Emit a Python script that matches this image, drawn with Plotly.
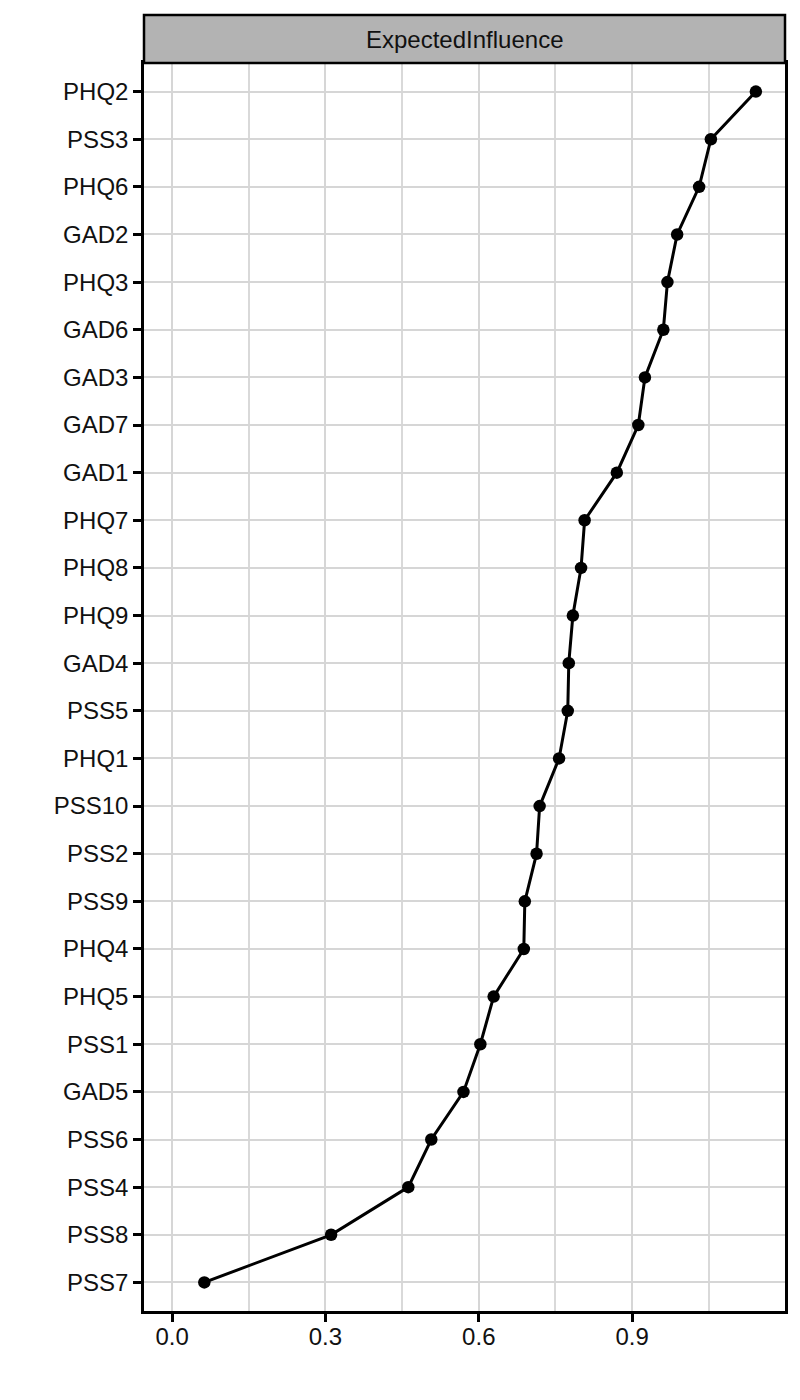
import plotly.graph_objects as go

nodes = ["PHQ2", "PSS3", "PHQ6", "GAD2", "PHQ3", "GAD6", "GAD3", "GAD7", "GAD1",
         "PHQ7", "PHQ8", "PHQ9", "GAD4", "PSS5", "PHQ1", "PSS10", "PSS2", "PSS9",
         "PHQ4", "PHQ5", "PSS1", "GAD5", "PSS6", "PSS4", "PSS8", "PSS7"]
expected_influence = [1.142, 1.054, 1.031, 0.988, 0.969, 0.961, 0.925, 0.912, 0.870,
                      0.807, 0.800, 0.784, 0.776, 0.774, 0.757, 0.719, 0.713, 0.690,
                      0.688, 0.629, 0.603, 0.570, 0.507, 0.462, 0.311, 0.063]
x_ticks = [0.0, 0.3, 0.6, 0.9]
facet_label = "ExpectedInfluence"

# page body has an 8px margin, so the figure is shrunk by that offset
W, H = 792, 1392
ml, mr, mt, mb = 136, 15, 55, 89
plot_h = H - mt - mb
strip_h = 48

fig = go.Figure()
fig.add_trace(go.Scatter(
    x=expected_influence, y=nodes, mode="lines+markers",
    line=dict(color="black", width=3),
    marker=dict(color="black", size=12.5),
    showlegend=False, cliponaxis=False,
))

font = dict(family="Liberation Sans, Arial, Helvetica, sans-serif", size=24, color="#111111")

fig.update_layout(
    width=W, height=H,
    margin=dict(l=ml, r=mr, t=mt, b=mb),
    paper_bgcolor="white", plot_bgcolor="white",
    font=font,
    xaxis=dict(
        range=[-0.055, 1.199], tickvals=x_ticks, tickformat=".1f",
        showgrid=True, gridcolor="#d6d6d6", gridwidth=2.2,
        minor=dict(dtick=0.15, tick0=0, showgrid=True, gridcolor="#d9d9d9", gridwidth=1.6),
        showline=True, linecolor="black", linewidth=2.5, mirror=True,
        ticks="outside", ticklen=8, tickwidth=2.5, tickcolor="black",
        ticklabelstandoff=-6,
        zeroline=False, tickfont=font,
    ),
    yaxis=dict(
        type="category", categoryorder="array", categoryarray=nodes,
        range=[len(nodes) - 1 + 0.6, -0.6],
        showgrid=True, gridcolor="#d6d6d6", gridwidth=2.2,
        showline=True, linecolor="black", linewidth=2.5, mirror=True,
        ticks="outside", ticklen=8, tickwidth=2.5, tickcolor="black",
        zeroline=False, tickfont=font,
    ),
)

fig.add_shape(type="rect", xref="paper", yref="paper",
              x0=0, x1=1, y0=1, y1=1 + strip_h / plot_h,
              fillcolor="#b3b3b3", line=dict(color="black", width=2.5))
fig.add_annotation(text=facet_label, xref="paper", yref="paper",
                   x=0.5, y=1 + strip_h / 2 / plot_h, showarrow=False,
                   xanchor="center", yanchor="middle",
                   font=dict(family=font["family"], size=24, color="#111111"))

fig.write_html("out.html")
